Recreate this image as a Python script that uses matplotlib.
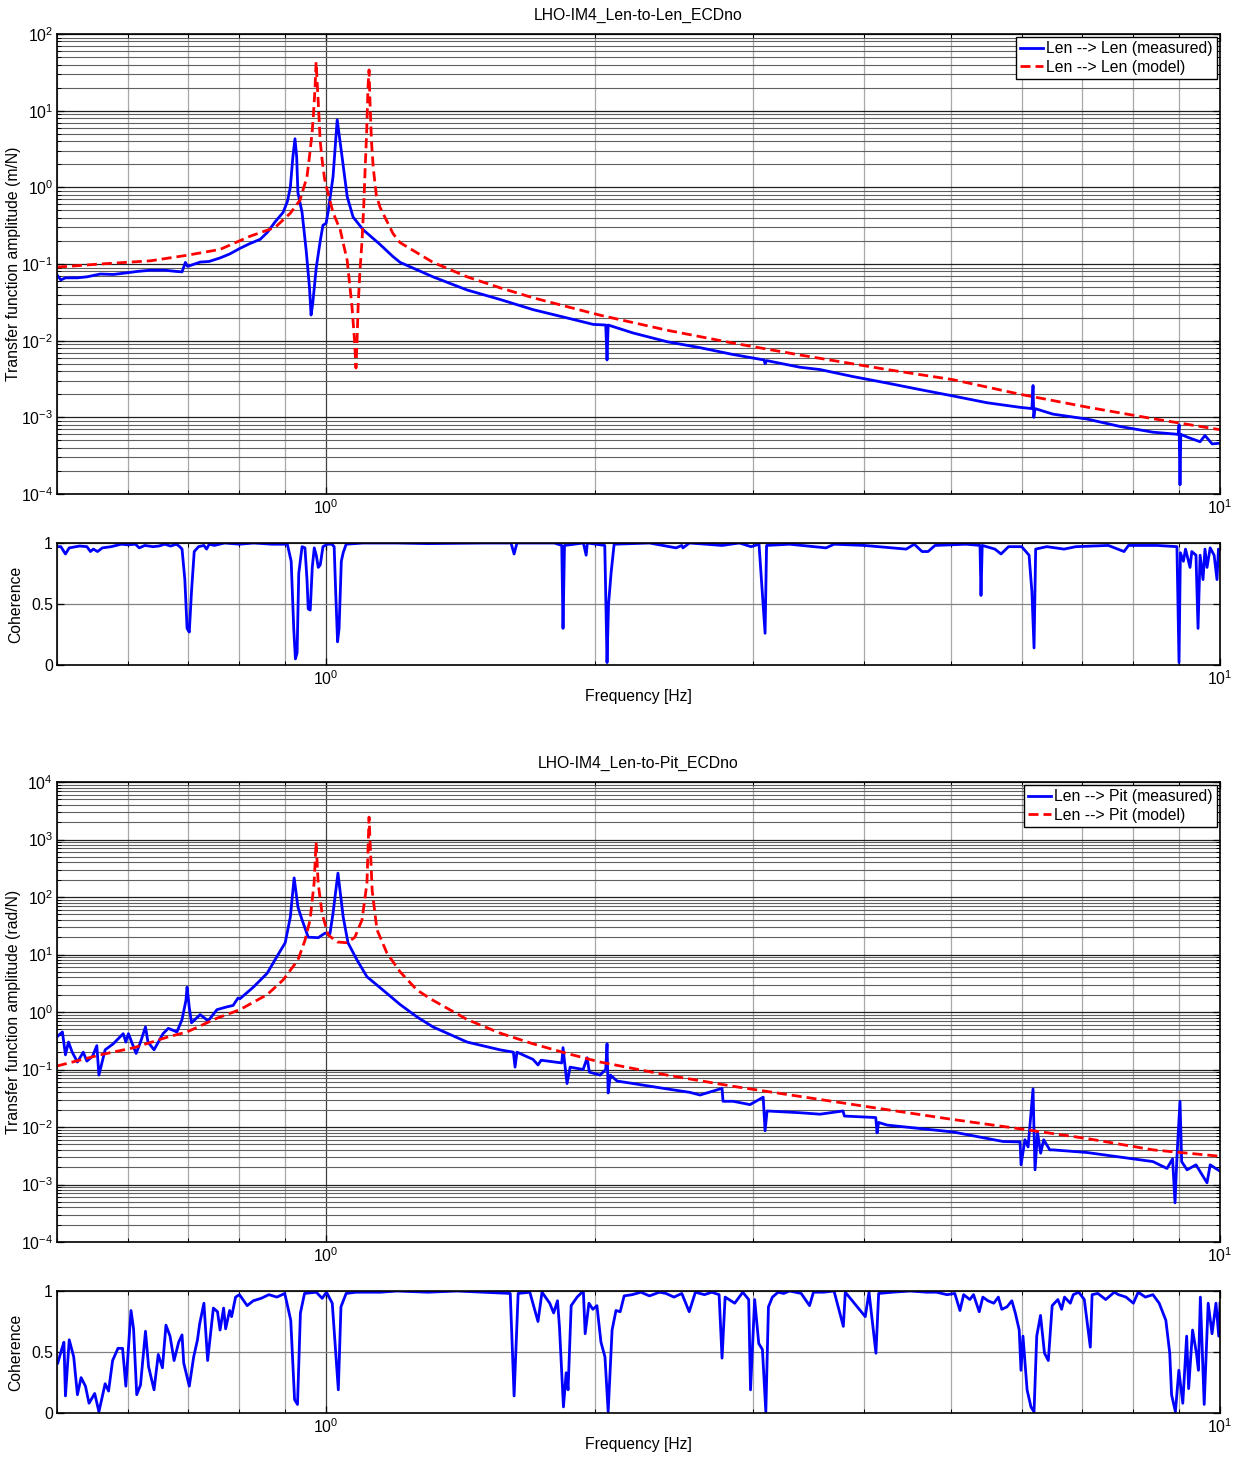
import numpy as np
import matplotlib
matplotlib.use('Agg')
import matplotlib.pyplot as plt
from matplotlib.ticker import LogLocator, NullFormatter, FixedLocator, FixedFormatter

plt.rcParams['font.family'] = ['Liberation Sans', 'DejaVu Sans']
plt.rcParams['mathtext.fontset'] = 'custom'
plt.rcParams['mathtext.rm'] = 'Liberation Sans'
plt.rcParams['mathtext.it'] = 'Liberation Sans:italic'
plt.rcParams['mathtext.bf'] = 'Liberation Sans:bold'
plt.rcParams['mathtext.default'] = 'regular'
plt.rcParams['axes.unicode_minus'] = False

# ---------------- Data ----------------
titles = ["LHO-IM4_Len-to-Len_ECDno", "LHO-IM4_Len-to-Pit_ECDno"]
ylabels = ["Transfer function amplitude (m/N)", "Transfer function amplitude (rad/N)"]
legend_labels = [["Len --> Len (measured)", "Len --> Len (model)"],
                 ["Len --> Pit (measured)", "Len --> Pit (model)"]]

# Len -> Len measured
ll_meas_f = [0.500, 0.505, 0.511, 0.527, 0.540, 0.559, 0.578, 0.600, 0.615, 0.636,
             0.660, 0.680, 0.690, 0.696, 0.700, 0.723, 0.740, 0.761, 0.780, 0.801,
             0.822, 0.844, 0.860, 0.877, 0.895, 0.905, 0.912, 0.918, 0.923, 0.927,
             0.930, 0.940, 0.950, 0.958, 0.962, 0.966, 0.975, 0.985, 0.992, 1.000,
             1.005, 1.018, 1.029, 1.042, 1.056, 1.072, 1.100, 1.149, 1.188, 1.210,
             1.317, 1.438, 1.565, 1.704, 1.860, 1.990, 2.055, 2.062, 2.068, 2.205,
             2.406, 2.620, 2.853, 3.090, 3.098, 3.110, 3.390, 3.569, 3.886, 4.242,
             4.618, 5.027, 5.487, 5.975, 6.160, 6.178, 6.190, 6.210, 6.505, 7.099,
             7.730, 8.416, 8.980, 9.000, 9.021, 9.040, 9.200, 9.500, 9.620, 9.800, 10.0]
ll_meas_v = [0.072, 0.062, 0.066, 0.066, 0.068, 0.074, 0.073, 0.077, 0.080, 0.083,
             0.083, 0.080, 0.079, 0.105, 0.093, 0.106, 0.108, 0.120, 0.135, 0.160,
             0.185, 0.210, 0.260, 0.355, 0.470, 0.650, 1.0, 2.5, 4.3, 2.5,
             0.85, 0.47, 0.15, 0.05, 0.0216, 0.03, 0.09, 0.20, 0.32, 0.34,
             0.47, 1.37, 7.6, 2.5, 0.75, 0.41, 0.28, 0.18, 0.125, 0.105,
             0.068, 0.0458, 0.0345, 0.0254, 0.0198, 0.0163, 0.016, 0.0056, 0.016, 0.0126,
             0.0097, 0.0081, 0.0066, 0.0056, 0.0050, 0.0055, 0.0045, 0.0042, 0.0034, 0.0028,
             0.0023, 0.0019, 0.00155, 0.00135, 0.0013, 0.0026, 0.0010, 0.0013, 0.0011, 0.00095,
             0.00076, 0.00064, 0.00060, 0.00080, 0.000132, 0.00060, 0.00055, 0.00048, 0.00058, 0.00045, 0.00046]

# Len -> Len model
ll_mod_f = [0.500, 0.559, 0.636, 0.699, 0.761, 0.822, 0.877, 0.912, 0.935, 0.952,
            0.958, 0.9645, 0.968, 0.972, 0.9746, 0.977, 0.9797, 0.985, 0.9897, 0.996,
            1.0026, 1.018, 1.037, 1.056, 1.069, 1.076, 1.080, 1.083, 1.086, 1.091,
            1.097, 1.102, 1.106, 1.110, 1.114, 1.117, 1.120, 1.124, 1.129, 1.138,
            1.149, 1.188, 1.210, 1.264, 1.317, 1.438, 1.565, 1.704, 1.860, 2.025,
            2.406, 2.853, 3.390, 4.242, 5.027, 5.975, 7.099, 8.416, 10.0]
ll_mod_v = [0.091, 0.100, 0.110, 0.130, 0.155, 0.230, 0.300, 0.460, 0.680, 1.37,
            2.5, 5.1, 9.0, 20.0, 43.0, 25.0, 13.8, 4.0, 2.3, 1.3,
            0.93, 0.47, 0.28, 0.11, 0.0277, 0.010, 0.0044, 0.010, 0.028, 0.08,
            0.20, 0.60, 1.83, 5.0, 20.0, 34.0, 12.0, 4.0, 1.83, 0.80,
            0.55, 0.25, 0.19, 0.14, 0.105, 0.068, 0.049, 0.0363, 0.0278, 0.0215,
            0.0137, 0.0093, 0.0065, 0.0042, 0.0031, 0.0020, 0.00136, 0.00096, 0.00069]

# Len -> Len coherence
ll_coh_f = [0.500, 0.505, 0.511, 0.516, 0.530, 0.540, 0.545, 0.549, 0.555, 0.562,
            0.575, 0.590, 0.600, 0.612, 0.618, 0.627, 0.640, 0.650, 0.660, 0.670,
            0.680, 0.686, 0.690, 0.695, 0.699, 0.703, 0.707, 0.712, 0.720, 0.730,
            0.735, 0.740, 0.750, 0.760, 0.770, 0.800, 0.830, 0.870, 0.905, 0.914,
            0.920, 0.924, 0.928, 0.932, 0.940, 0.947, 0.952, 0.955, 0.960, 0.965,
            0.970, 0.975, 0.980, 0.985, 0.992, 1.003, 1.015, 1.021, 1.025, 1.030,
            1.034, 1.040, 1.045, 1.053, 1.100, 1.200, 1.300, 1.500, 1.610, 1.623,
            1.635, 1.800, 1.835, 1.841, 1.848, 1.940, 1.954, 1.960, 2.050, 2.062,
            2.070, 2.084, 2.100, 2.300, 2.463, 2.500, 2.507, 2.550, 2.773, 2.900,
            2.988, 3.050, 3.098, 3.110, 3.300, 3.625, 3.700, 4.000, 4.456, 4.550,
            4.642, 4.714, 4.800, 5.200, 5.389, 5.403, 5.420, 5.600, 5.689, 5.800,
            6.000, 6.115, 6.160, 6.194, 6.220, 6.400, 6.691, 6.900, 7.500, 7.810,
            7.900, 8.500, 8.950, 8.998, 9.030, 9.100, 9.150, 9.257, 9.300, 9.400,
            9.450, 9.500, 9.572, 9.620, 9.671, 9.750, 9.850, 9.923, 9.960, 10.0]
ll_coh_v = [0.97, 0.97, 0.91, 0.96, 0.975, 0.97, 0.93, 0.95, 0.93, 0.96,
            0.97, 0.99, 0.985, 0.99, 0.96, 0.98, 0.97, 0.975, 0.99, 0.975,
            0.99, 0.97, 0.95, 0.70, 0.30, 0.27, 0.60, 0.93, 0.97, 0.98,
            0.95, 0.99, 0.98, 0.99, 1.0, 0.99, 1.0, 0.99, 0.99, 0.85,
            0.30, 0.05, 0.10, 0.75, 0.97, 0.96, 0.70, 0.46, 0.45, 0.80,
            0.96, 0.90, 0.80, 0.82, 0.97, 0.99, 0.99, 0.97, 0.60, 0.19,
            0.30, 0.85, 0.92, 0.99, 1.0, 1.0, 0.995, 1.0, 1.0, 0.91,
            1.0, 1.0, 0.98, 0.30, 0.98, 1.0, 0.90, 1.0, 0.98, 0.02,
            0.50, 0.76, 0.99, 1.0, 0.96, 0.98, 0.96, 1.0, 0.98, 1.0,
            0.97, 0.99, 0.26, 0.98, 0.99, 0.96, 0.99, 0.98, 0.95, 0.99,
            0.93, 0.93, 0.98, 0.99, 0.98, 0.57, 0.98, 0.95, 0.91, 0.97,
            0.97, 0.90, 0.60, 0.14, 0.95, 0.97, 0.95, 0.97, 0.98, 0.93,
            0.98, 0.98, 0.97, 0.02, 0.92, 0.85, 0.95, 0.80, 0.93, 0.90,
            0.30, 0.90, 0.70, 0.95, 0.80, 0.96, 0.90, 0.70, 0.95, 0.92]

# Len -> Pit measured
lp_meas_f = [0.500, 0.507, 0.511, 0.515, 0.520, 0.527, 0.535, 0.540, 0.548, 0.554,
             0.557, 0.566, 0.578, 0.593, 0.597, 0.601, 0.613, 0.620, 0.628, 0.632,
             0.642, 0.657, 0.666, 0.681, 0.690, 0.697, 0.699, 0.703, 0.707, 0.723,
             0.738, 0.755, 0.775, 0.787, 0.797, 0.801, 0.829, 0.859, 0.881, 0.900,
             0.912, 0.921, 0.930, 0.940, 0.955, 0.980, 0.997, 1.010, 1.018, 1.031,
             1.045, 1.058, 1.083, 1.111, 1.158, 1.210, 1.264, 1.317, 1.438, 1.565,
             1.620, 1.627, 1.635, 1.704, 1.726, 1.740, 1.835, 1.841, 1.850, 1.860,
             1.875, 1.939, 1.959, 1.970, 2.025, 2.055, 2.062, 2.068, 2.080, 2.116,
             2.205, 2.406, 2.553, 2.620, 2.773, 2.780, 2.853, 2.980, 3.083, 3.098,
             3.114, 3.390, 3.569, 3.787, 3.800, 4.120, 4.134, 4.150, 4.242, 5.027,
             5.718, 5.975, 5.990, 6.050, 6.100, 6.178, 6.194, 6.210, 6.250, 6.300,
             6.350, 6.450, 6.505, 7.099, 7.730, 8.416, 8.724, 8.850, 8.906, 8.950,
             9.021, 9.060, 9.186, 9.400, 9.671, 9.750, 10.0]
lp_meas_v = [0.37, 0.45, 0.18, 0.30, 0.20, 0.135, 0.20, 0.14, 0.17, 0.26,
             0.08, 0.22, 0.28, 0.42, 0.30, 0.42, 0.19, 0.30, 0.55, 0.30,
             0.22, 0.42, 0.52, 0.45, 0.74, 1.6, 2.7, 1.2, 0.65, 0.90,
             0.70, 1.10, 1.23, 1.30, 1.75, 1.70, 2.7, 4.7, 9.2, 16.0,
             45.0, 215.0, 67.0, 40.0, 20.0, 19.6, 23.5, 23.0, 52.0, 260.0,
             45.0, 16.0, 8.0, 4.1, 2.4, 1.35, 0.82, 0.55, 0.30, 0.22,
             0.20, 0.11, 0.20, 0.15, 0.12, 0.145, 0.13, 0.24, 0.12, 0.057,
             0.11, 0.10, 0.16, 0.09, 0.08, 0.10, 0.28, 0.039, 0.08, 0.063,
             0.057, 0.046, 0.040, 0.036, 0.047, 0.028, 0.028, 0.0245, 0.033, 0.0086,
             0.019, 0.0177, 0.0167, 0.019, 0.0155, 0.0146, 0.0079, 0.012, 0.0108, 0.0082,
             0.0056, 0.0055, 0.0022, 0.0060, 0.0045, 0.046, 0.0080, 0.0018, 0.0080, 0.0035,
             0.0060, 0.0040, 0.0040, 0.0036, 0.0030, 0.0025, 0.0019, 0.0028, 0.00048, 0.0030,
             0.028, 0.0025, 0.0018, 0.0022, 0.00107, 0.0022, 0.0017]

# Len -> Pit model
lp_mod_f = [0.500, 0.559, 0.610, 0.666, 0.699, 0.755, 0.801, 0.859, 0.895, 0.930,
            0.947, 0.9596, 0.9696, 0.9746, 0.9797, 0.9897, 1.005, 1.029, 1.056, 1.077,
            1.097, 1.111, 1.117, 1.126, 1.140, 1.170, 1.210, 1.264, 1.317, 1.438,
            1.565, 1.704, 1.860, 2.025, 2.406, 2.853, 3.390, 4.242, 5.027, 5.975,
            7.099, 8.416, 10.0]
lp_mod_v = [0.115, 0.18, 0.24, 0.37, 0.45, 0.78, 1.1, 2.0, 3.6, 8.0,
            17.6, 40.0, 176.0, 900.0, 176.0, 52.0, 22.0, 16.5, 16.0, 20.0,
            40.0, 176.0, 2450.0, 130.0, 27.0, 10.5, 5.0, 2.4, 1.6, 0.74,
            0.43, 0.28, 0.19, 0.135, 0.08, 0.051, 0.034, 0.020, 0.0135, 0.0093,
            0.0063, 0.0040, 0.0031]

# Len -> Pit coherence
lp_coh_f = [0.501, 0.506, 0.509, 0.511, 0.516, 0.522, 0.527, 0.532, 0.538, 0.543,
            0.551, 0.557, 0.566, 0.571, 0.577, 0.585, 0.592, 0.597, 0.605, 0.609,
            0.614, 0.620, 0.628, 0.633, 0.642, 0.649, 0.656, 0.662, 0.669, 0.676,
            0.684, 0.690, 0.693, 0.703, 0.711, 0.718, 0.722, 0.730, 0.737, 0.748,
            0.756, 0.761, 0.768, 0.772, 0.780, 0.784, 0.792, 0.800, 0.816, 0.829,
            0.846, 0.863, 0.881, 0.899, 0.913, 0.922, 0.929, 0.936, 0.946, 0.975,
            0.990, 1.001, 1.016, 1.032, 1.039, 1.053, 1.080, 1.150, 1.200, 1.300,
            1.400, 1.500, 1.607, 1.623, 1.640, 1.690, 1.726, 1.744, 1.779, 1.797,
            1.815, 1.824, 1.843, 1.856, 1.865, 1.880, 1.909, 1.940, 1.949, 1.968,
            1.988, 2.009, 2.030, 2.051, 2.068, 2.089, 2.110, 2.133, 2.155, 2.200,
            2.250, 2.300, 2.360, 2.400, 2.450, 2.500, 2.548, 2.589, 2.650, 2.700,
            2.752, 2.773, 2.795, 2.865, 2.925, 2.970, 2.984, 3.016, 3.048, 3.077,
            3.104, 3.125, 3.157, 3.204, 3.250, 3.300, 3.400, 3.474, 3.509, 3.600,
            3.700, 3.790, 3.809, 4.010, 4.049, 4.122, 4.151, 4.300, 4.500, 4.700,
            4.818, 4.950, 5.050, 5.118, 5.167, 5.250, 5.300, 5.378, 5.429, 5.500,
            5.584, 5.650, 5.700, 5.777, 5.850, 5.902, 5.962, 5.989, 6.020, 6.084,
            6.145, 6.194, 6.237, 6.298, 6.363, 6.426, 6.490, 6.586, 6.650, 6.700,
            6.800, 6.853, 6.950, 7.050, 7.160, 7.193, 7.300, 7.450, 7.616, 7.700,
            7.850, 8.000, 8.100, 8.250, 8.413, 8.550, 8.698, 8.786, 8.827, 8.915,
            8.994, 9.086, 9.177, 9.224, 9.318, 9.411, 9.459, 9.507, 9.601, 9.700,
            9.797, 9.897, 9.968, 10.0]
lp_coh_v = [0.41, 0.52, 0.58, 0.14, 0.60, 0.46, 0.15, 0.29, 0.22, 0.08,
            0.16, 0.01, 0.24, 0.18, 0.43, 0.53, 0.53, 0.22, 0.84, 0.69,
            0.15, 0.23, 0.67, 0.38, 0.19, 0.48, 0.37, 0.72, 0.63, 0.43,
            0.58, 0.64, 0.41, 0.22, 0.46, 0.60, 0.73, 0.90, 0.43, 0.86,
            0.83, 0.68, 0.86, 0.69, 0.84, 0.79, 0.95, 0.97, 0.88, 0.92,
            0.94, 0.97, 0.95, 0.98, 0.76, 0.11, 0.07, 0.82, 0.98, 0.99,
            0.94, 0.99, 0.90, 0.19, 0.87, 0.98, 0.99, 0.99, 1.0, 0.99,
            1.0, 0.99, 0.98, 0.14, 0.98, 0.99, 0.75, 0.99, 0.90, 0.82,
            0.92, 0.71, 0.05, 0.33, 0.19, 0.88, 0.95, 1.0, 0.65, 0.90,
            0.85, 0.88, 0.58, 0.46, 0.01, 0.68, 0.84, 0.83, 0.96, 0.97,
            0.99, 0.96, 0.99, 0.98, 0.95, 0.98, 0.83, 0.99, 0.97, 0.99,
            0.97, 0.45, 0.95, 0.90, 0.99, 0.93, 0.19, 0.93, 0.57, 0.52,
            0.01, 0.87, 0.95, 0.99, 0.98, 1.0, 0.98, 0.88, 0.99, 0.99,
            1.0, 0.71, 0.99, 0.79, 0.99, 0.49, 0.98, 0.99, 1.0, 0.99,
            0.99, 0.97, 0.98, 0.84, 0.97, 0.93, 0.97, 0.83, 0.95, 0.92,
            0.90, 0.95, 0.85, 0.87, 0.92, 0.82, 0.68, 0.35, 0.63, 0.19,
            0.05, 0.01, 0.63, 0.80, 0.49, 0.43, 0.88, 0.93, 0.85, 0.95,
            0.90, 0.97, 0.99, 0.93, 0.54, 0.97, 0.98, 0.93, 0.99, 0.97,
            0.95, 0.90, 0.99, 0.95, 0.97, 0.90, 0.76, 0.49, 0.15, 0.01,
            0.35, 0.08, 0.63, 0.20, 0.68, 0.49, 0.35, 0.95, 0.07, 0.90,
            0.65, 0.90, 0.63, 0.90]

# ---------------- Figure ----------------
W, H = 1241, 1458
fig = plt.figure(figsize=(W / 100, H / 100), dpi=100)

def rect(l, t, r, b):
    return [l / W, 1 - b / H, (r - l) / W, (b - t) / H]

ax_tf1 = fig.add_axes(rect(57, 34, 1220, 494))
ax_c1 = fig.add_axes(rect(57, 543, 1220, 665))
ax_tf2 = fig.add_axes(rect(57, 782, 1220, 1242))
ax_c2 = fig.add_axes(rect(57, 1291, 1220, 1413))

FS = 11.3
BLUE = '#0000ff'
RED = '#ff0000'

def style_x(ax):
    ax.set_xscale('log')
    ax.set_xlim(0.5, 10)
    ax.xaxis.set_major_locator(LogLocator(base=10, numticks=10))
    ax.xaxis.set_minor_locator(LogLocator(base=10, subs=np.arange(2, 10), numticks=50))
    ax.xaxis.set_minor_formatter(NullFormatter())
    ax.xaxis.grid(True, which='major', color='#404040', lw=0.9)
    ax.xaxis.grid(True, which='minor', color='#a8a8a8', lw=0.9)
    ax.tick_params(which='both', direction='in', top=True, right=True, labelsize=FS)
    ax.tick_params(which='major', length=5, width=0.9, pad=3)
    ax.tick_params(which='minor', length=3, width=0.7)
    for s in ax.spines.values():
        s.set_linewidth(1.2)
    ax.set_axisbelow(True)

def style_tf(ax, ylo, yhi):
    style_x(ax)
    ax.set_yscale('log')
    ax.set_ylim(ylo, yhi)
    ax.yaxis.set_major_locator(LogLocator(base=10, numticks=20))
    ax.yaxis.set_minor_locator(LogLocator(base=10, subs=np.arange(2, 10), numticks=200))
    ax.yaxis.set_minor_formatter(NullFormatter())
    ax.yaxis.grid(True, which='major', color='#202020', lw=0.9)
    ax.yaxis.grid(True, which='minor', color='#606060', lw=0.8)

def style_coh(ax):
    style_x(ax)
    ax.set_ylim(0, 1)
    ax.yaxis.set_major_locator(FixedLocator([0, 0.5, 1]))
    ax.yaxis.set_major_formatter(FixedFormatter(['0', '0.5', '1']))
    ax.yaxis.grid(True, which='major', color='#808080', lw=0.9)

panels = [
    (ax_tf1, ax_c1, ll_meas_f, ll_meas_v, ll_mod_f, ll_mod_v, ll_coh_f, ll_coh_v, 1e-4, 1e2),
    (ax_tf2, ax_c2, lp_meas_f, lp_meas_v, lp_mod_f, lp_mod_v, lp_coh_f, lp_coh_v, 1e-4, 1e4),
]

for i, (axt, axc, mf, mv, pf, pv, cf, cv, ylo, yhi) in enumerate(panels):
    axt.plot(mf, mv, color=BLUE, lw=2.0, label=legend_labels[i][0], solid_joinstyle='round')
    axt.plot(pf, pv, color=RED, lw=2.0, ls=(0, (3.6, 1.8)), label=legend_labels[i][1])
    style_tf(axt, ylo, yhi)
    axt.set_title(titles[i], fontsize=FS, pad=10)
    axt.set_ylabel(ylabels[i], fontsize=FS)
    axt.yaxis.set_label_coords(-0.031, 0.5)
    leg = axt.legend(loc='upper right', fontsize=FS, frameon=True, fancybox=False,
                     edgecolor='black', framealpha=1, borderaxespad=0.2,
                     handlelength=1.5, handletextpad=0.2, borderpad=0.25,
                     labelspacing=0.25)
    leg.get_frame().set_linewidth(1.0)

    axc.plot(cf, cv, color=BLUE, lw=2.0, solid_joinstyle='round')
    style_coh(axc)
    axc.set_ylabel('Coherence', fontsize=FS)
    axc.yaxis.set_label_coords(-0.029, 0.5)
    axc.set_xlabel('Frequency [Hz]', fontsize=FS, labelpad=1)

fig.savefig('out.png', dpi=100)
